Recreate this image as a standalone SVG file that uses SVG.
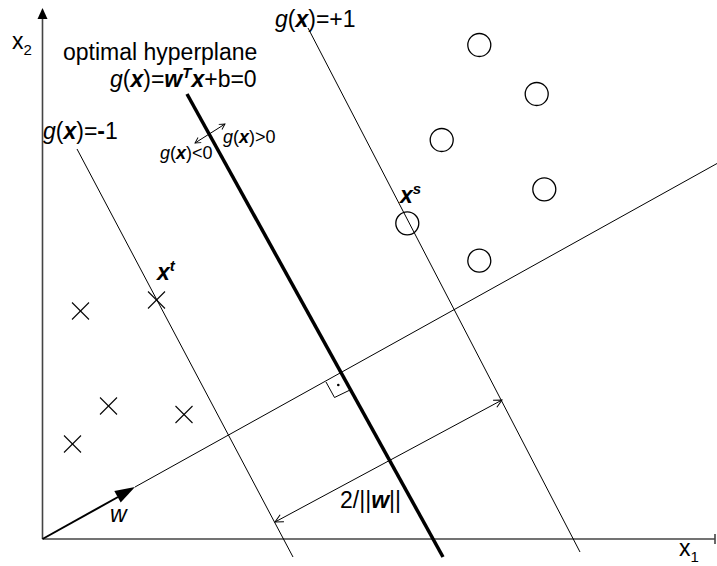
<svg xmlns="http://www.w3.org/2000/svg" width="717" height="566" viewBox="0 0 717 566">
<style>
text{font-family:"Liberation Sans",Arial,sans-serif;fill:#000}
.lbl{font-size:23px}
.sm{font-size:18px}
.bi{font-weight:bold;font-style:italic}
.it{font-style:italic}
.thin{stroke:#000;stroke-width:1;fill:none}
.axis{stroke:#444;stroke-width:1.6;fill:none}
.pt{stroke:#000;stroke-width:1.3;fill:none}
.cr{stroke:#000;stroke-width:1.1;fill:none}
</style>
<defs>
<marker id="oa" markerUnits="userSpaceOnUse" markerWidth="12" markerHeight="12" refX="9" refY="5" orient="auto-start-reverse" viewBox="0 0 12 10">
<path d="M1,1 L9,5 L1,9" fill="none" stroke="#000" stroke-width="1"/>
</marker>
<marker id="oas" markerUnits="userSpaceOnUse" markerWidth="8" markerHeight="8" refX="6" refY="3.5" orient="auto-start-reverse" viewBox="0 0 8 7">
<path d="M0.5,0.5 L6,3.5 L0.5,6.5" fill="none" stroke="#000" stroke-width="0.9"/>
</marker>
</defs>
<g id="axes">
<line class="axis" x1="42.5" y1="539" x2="42.5" y2="16"/>
<polygon points="42.5,8 37.5,19 47.5,19" fill="#000"/>
<line class="axis" x1="42.5" y1="539" x2="715" y2="539"/>
<line class="axis" x1="715" y1="534" x2="715" y2="544"/>
<text class="lbl" x="12" y="49" font-size="22">x<tspan font-size="15" dy="6">2</tspan></text>
<text class="lbl" x="679" y="556" font-size="22">x<tspan font-size="15" dy="6">1</tspan></text>
</g>
<g id="connectors">
<line class="thin" x1="77" y1="149" x2="293" y2="557"/>
<line x1="187" y1="94" x2="443" y2="557" stroke="#000" stroke-width="3.5"/>
<line class="thin" x1="308" y1="28" x2="580" y2="552"/>
<line class="thin" x1="135" y1="487" x2="717" y2="163.5"/>
<line x1="42.5" y1="539" x2="118" y2="497" stroke="#000" stroke-width="2"/>
<polygon points="135,487 114.3,491 120.7,502.4" fill="#000"/>
<line class="thin" x1="275" y1="522" x2="502" y2="400" marker-start="url(#oa)" marker-end="url(#oa)"/>
<line class="thin" x1="195" y1="143" x2="225" y2="124" marker-start="url(#oas)" marker-end="url(#oas)"/>
<polyline class="thin" points="326,382 334.5,397.5 350,390"/>
<circle cx="338.3" cy="385" r="1.3" fill="#000"/>
</g>
<g id="labels">
<text class="lbl" x="63" y="60" font-size="23.6">optimal hyperplane</text>
<text class="lbl" x="110" y="87"><tspan class="it">g</tspan>(<tspan class="bi">x</tspan>)=<tspan class="bi">w</tspan><tspan class="bi" font-size="15" dy="-9">T</tspan><tspan class="bi" dy="9">x</tspan>+b=0</text>
<text class="lbl" x="43" y="139"><tspan class="it">g</tspan>(<tspan class="bi">x</tspan>)=<tspan font-weight="bold">-</tspan>1</text>
<text class="lbl" x="275" y="27"><tspan class="it">g</tspan>(<tspan class="bi">x</tspan>)=+1</text>
<text class="sm" x="223" y="143"><tspan class="it">g</tspan>(<tspan class="bi">x</tspan>)&gt;0</text>
<text class="sm" x="160" y="159"><tspan class="it">g</tspan>(<tspan class="bi">x</tspan>)&lt;0</text>
<text class="lbl" x="340" y="508">2/||<tspan class="bi">w</tspan>||</text>
<text class="lbl it" x="110" y="522">w</text>
</g>
<g id="point-xt">
<line class="cr" x1="148" y1="291.5" x2="165" y2="308.5"/><line class="cr" x1="148" y1="308.5" x2="165" y2="291.5"/>
<text class="lbl bi" x="157" y="280">x<tspan font-size="15" dy="-9">t</tspan></text>
</g>
<g id="point-x1"><line class="cr" x1="72" y1="302.5" x2="89" y2="319.5"/><line class="cr" x1="72" y1="319.5" x2="89" y2="302.5"/></g>
<g id="point-x2"><line class="cr" x1="100" y1="397.5" x2="117" y2="414.5"/><line class="cr" x1="100" y1="414.5" x2="117" y2="397.5"/></g>
<g id="point-x3"><line class="cr" x1="175.5" y1="406" x2="192.5" y2="423"/><line class="cr" x1="175.5" y1="423" x2="192.5" y2="406"/></g>
<g id="point-x4"><line class="cr" x1="64" y1="435.5" x2="81" y2="452.5"/><line class="cr" x1="64" y1="452.5" x2="81" y2="435.5"/></g>
<g id="point-xs">
<circle class="pt" cx="407.3" cy="223.3" r="11.5"/>
<text class="lbl bi" x="400" y="203">x<tspan font-size="15" dy="-9">s</tspan></text>
</g>
<g id="point-o1"><circle class="pt" cx="479.3" cy="45" r="11.5"/></g>
<g id="point-o2"><circle class="pt" cx="536.7" cy="94" r="11.5"/></g>
<g id="point-o3"><circle class="pt" cx="441.7" cy="140" r="11.5"/></g>
<g id="point-o4"><circle class="pt" cx="544.3" cy="189.3" r="11.5"/></g>
<g id="point-o5"><circle class="pt" cx="479.3" cy="260.7" r="11.5"/></g>
</svg>
